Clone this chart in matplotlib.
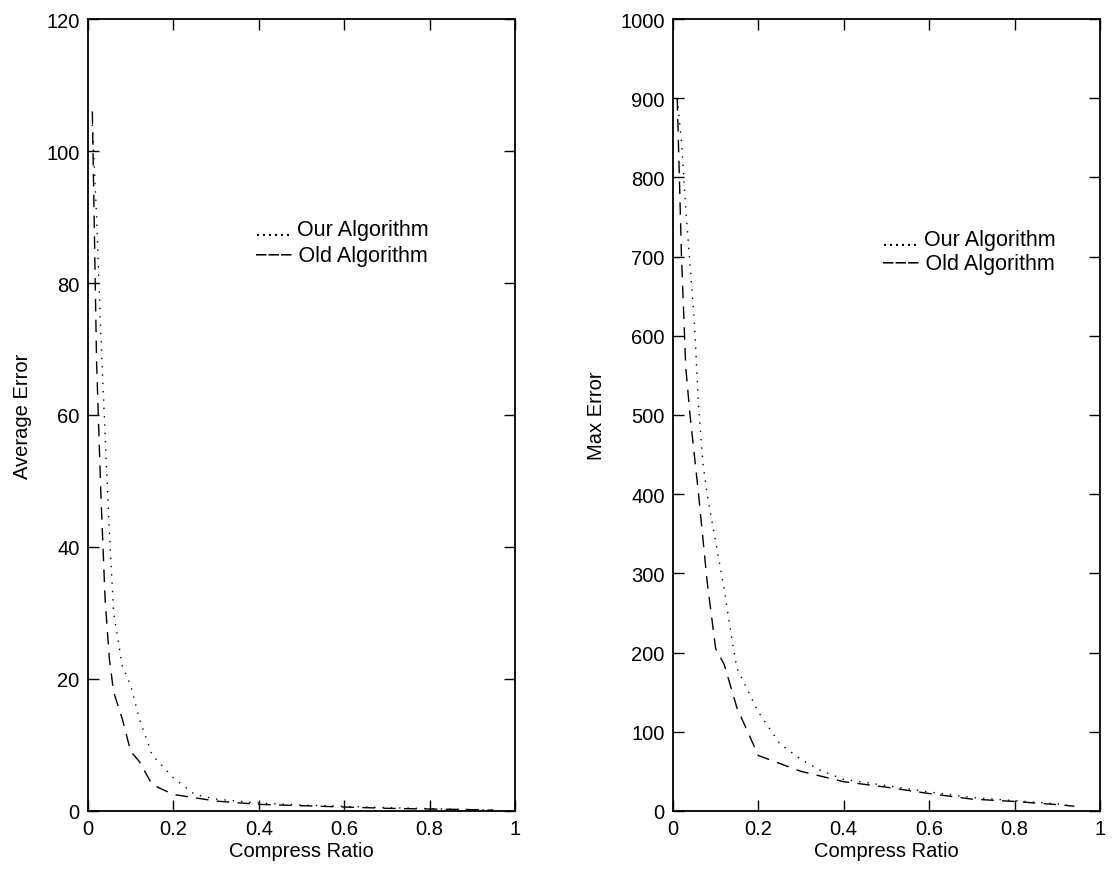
import matplotlib
matplotlib.use("Agg")
import matplotlib.pyplot as plt

plt.rcParams['font.family'] = ['Liberation Sans', 'DejaVu Sans']

# average error (left panel)
x_avg_old = [0.01, 0.02, 0.03, 0.04, 0.05, 0.06, 0.08, 0.10, 0.12, 0.15, 0.20,
             0.30, 0.40, 0.50, 0.60, 0.70, 0.80, 0.90, 0.95]
y_avg_old = [106, 68, 48, 32, 23, 18, 14, 9, 7.5, 4, 2.5,
             1.5, 1.0, 0.8, 0.6, 0.4, 0.3, 0.2, 0.1]
x_avg_our = [0.01, 0.02, 0.03, 0.04, 0.05, 0.06, 0.08, 0.10, 0.12, 0.15, 0.20,
             0.25, 0.30, 0.40, 0.50, 0.60, 0.70, 0.80, 0.90, 0.95]
y_avg_our = [104, 90, 72, 57, 42, 30, 22, 19, 14, 8.5, 5,
             2.5, 1.8, 1.2, 0.9, 0.7, 0.5, 0.35, 0.2, 0.15]

# max error (right panel)
x_max_old = [0.01, 0.02, 0.03, 0.04, 0.05, 0.06, 0.08, 0.10, 0.12, 0.15, 0.20,
             0.30, 0.40, 0.50, 0.60, 0.70, 0.80, 0.90, 0.94]
y_max_old = [900, 700, 560, 500, 450, 400, 290, 205, 185, 130, 70,
             50, 37, 30, 22, 15, 12, 8, 6]
x_max_our = [0.01, 0.02, 0.03, 0.04, 0.05, 0.06, 0.07, 0.08, 0.10, 0.12, 0.14,
             0.15, 0.20, 0.25, 0.30, 0.35, 0.40, 0.50, 0.60, 0.70, 0.80, 0.90, 0.94]
y_max_our = [900, 845, 760, 690, 620, 510, 440, 400, 340, 280, 210,
             180, 125, 85, 65, 50, 40, 32, 24, 17, 13, 9, 6]

xticks = [0, 0.2, 0.4, 0.6, 0.8, 1]
xticklabels = ['0', '0.2', '0.4', '0.6', '0.8', '1']

fig = plt.figure(figsize=(11.16, 8.78), dpi=100)
ax1 = fig.add_axes([0.0789, 0.0752, 0.3826, 0.902])
ax2 = fig.add_axes([0.603, 0.0752, 0.3826, 0.902])

panels = [
    (ax1, x_avg_our, y_avg_our, x_avg_old, y_avg_old, 120, 20, 'Average Error', (0.391, 0.734, 0.701)),
    (ax2, x_max_our, y_max_our, x_max_old, y_max_old, 1000, 100, 'Max Error', (0.489, 0.722, 0.691)),
]

for ax, xo, yo, xd, yd, ymax, ystep, ylab, (tx, ty1, ty2) in panels:
    ax.plot(xo, yo, color='black', linestyle=(0, (1, 5)), linewidth=1.0)
    ax.plot(xd, yd, color='black', linestyle=(0, (9, 6)), linewidth=1.0)
    ax.set_xlim(0, 1)
    ax.set_ylim(0, ymax)
    ax.set_xticks(xticks)
    ax.set_xticklabels(xticklabels)
    ax.set_yticks(list(range(0, ymax + 1, ystep)))
    ax.tick_params(direction='in', top=True, right=True, length=8, width=1,
                   labelsize=14.5, pad=6)
    for s in ax.spines.values():
        s.set_linewidth(1.3)
    ax.set_xlabel('Compress Ratio', fontsize=14.5, labelpad=2)
    ax.set_ylabel(ylab, fontsize=14.5, labelpad=10)
    ax.text(tx, ty1, '...... Our Algorithm', transform=ax.transAxes,
            fontsize=15.5, va='center', ha='left')
    ax.text(tx, ty2, '\u2212\u2212\u2212 Old Algorithm', transform=ax.transAxes,
            fontsize=15.5, va='center', ha='left')

fig.savefig('out.png', dpi=100)
